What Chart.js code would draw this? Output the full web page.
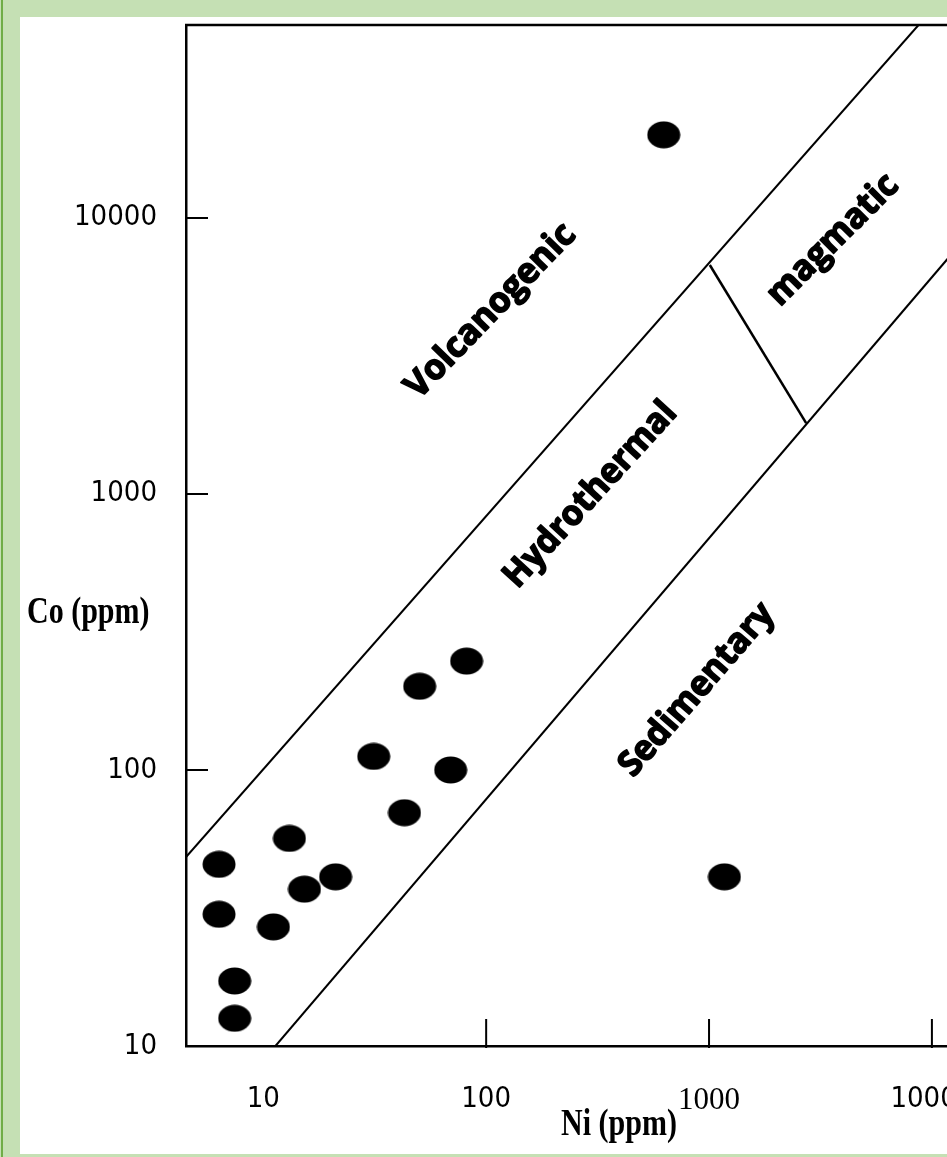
<!DOCTYPE html>
<html>
<head>
<meta charset="utf-8">
<script src="https://cdn.jsdelivr.net/npm/chart.js@4.4.1/dist/chart.umd.min.js"></script>
<style>
  html, body { margin: 0; padding: 0; }
  body { width: 947px; height: 1157px; overflow: hidden; background: #c5e0b4; position: relative; }
  #edge { position: absolute; left: 1px; top: 0; width: 2px; height: 1157px; background: #70ad47; }
  #panel { position: absolute; left: 20px; top: 17px; width: 1000px; height: 1137px; background: #fff; }
  #wrap { position: absolute; left: 0; top: 0; width: 1004px; height: 1157px; }
</style>
</head>
<body>
<div id="edge"></div>
<div id="panel"></div>
<div id="wrap"><canvas id="chart" width="1004" height="1157"></canvas></div>
<script>
// samples, Ni vs Co (ppm)
const niValues = [626, 1172, 81.7, 50.3, 31.3, 69.3, 43.0, 13.1, 6.33, 21.1, 15.3, 6.33, 11.1, 7.44, 7.44];
const coValues = [20000, 41, 248, 201, 112, 100, 70, 56.5, 45.5, 41, 37, 30, 27, 17.2, 12.6];

// field boundaries
const upperLineNi = [4.5, 8708];
const upperLineCo = [48.4, 50000];
const lowerLineNi = [11.34, 15850];
const lowerLineCo = [10, 9426];
const magmaticLineNi = [1008, 2728];
const magmaticLineCo = [6752, 1807];

// field names and where they sit
const fieldNames = ['Volcanogenic', 'Hydrothermal', 'Sedimentary', 'magmatic'];
const fieldNi = [105, 294, 882, 3600];
const fieldCo = [4600, 991, 195, 8318];

const xTicks = [10, 100, 1000, 10000];
const yTicks = [10, 100, 1000, 10000];

// label styling (degrees / px)
const fieldAngles = [46, 47.5, 49, 45];
const fieldWidths = [228, 238, 217, 170];

const toPoints = (xs, ys) => xs.map((v, i) => ({ x: v, y: ys[i] }));

// black ellipse used as marker
const dot = document.createElement('canvas');
dot.width = 34;
dot.height = 28;
const dctx = dot.getContext('2d');
dctx.fillStyle = '#000';
dctx.beginPath();
dctx.ellipse(17, 14, 16.5, 13.5, 0, 0, Math.PI * 2);
dctx.fill();

const sansFont = '"DejaVu Sans Condensed", "Liberation Sans Narrow", sans-serif';
const serifFont = '"Liberation Serif", "Times New Roman", serif';

// tall serif text, like the stretched titles in the original
function tallText(ctx, text, x, y, sy) {
  ctx.save();
  ctx.translate(x, y);
  ctx.scale(1, sy);
  ctx.fillText(text, 0, 0);
  ctx.restore();
}

const frame = {
  id: 'frame',
  afterDraw(chart) {
    const { ctx, chartArea: a, scales: { x, y } } = chart;
    ctx.save();
    ctx.strokeStyle = '#000';
    ctx.lineWidth = 2.5;
    ctx.beginPath();
    ctx.moveTo(a.left - 1, a.top);
    ctx.lineTo(a.right, a.top);
    ctx.stroke();
    // inward tick marks
    ctx.lineWidth = 2;
    ctx.beginPath();
    yTicks.filter(v => v > 10).forEach(v => {
      const p = y.getPixelForValue(v);
      ctx.moveTo(a.left, p);
      ctx.lineTo(a.left + 22, p);
    });
    xTicks.filter(v => v > 10).forEach(v => {
      const p = x.getPixelForValue(v);
      ctx.moveTo(p, a.bottom + 2);
      ctx.lineTo(p, a.bottom - 27);
    });
    ctx.stroke();

    // field names (heavy, so fill + thin outline)
    ctx.fillStyle = '#000';
    ctx.lineWidth = 1.6;
    ctx.lineJoin = 'round';
    ctx.textAlign = 'center';
    ctx.textBaseline = 'middle';
    ctx.font = 'bold 35px "Open Sans", sans-serif';
    fieldNames.forEach((name, i) => {
      const px = x.getPixelForValue(fieldNi[i]);
      const py = y.getPixelForValue(fieldCo[i]);
      const w = ctx.measureText(name).width;
      ctx.save();
      ctx.translate(px, py);
      ctx.rotate(-fieldAngles[i] * Math.PI / 180);
      ctx.scale(fieldWidths[i] / w, 1);
      ctx.fillText(name, 0, 0);
      ctx.strokeText(name, 0, 0);
      ctx.restore();
    });

    // axis titles
    ctx.font = 'bold 30px ' + serifFont;
    ctx.textBaseline = 'alphabetic';
    ctx.textAlign = 'center';
    tallText(ctx, 'Ni (ppm)', a.left + 433, 1135, 1.25);
    ctx.textAlign = 'left';
    tallText(ctx, 'Co (ppm)', 27, 623, 1.25);
    ctx.restore();
  }
};

const boundary = (xs, ys, w) => ({
  data: toPoints(xs, ys),
  showLine: true,
  borderColor: '#000',
  borderWidth: w,
  pointRadius: 0,
  fill: false
});

new Chart(document.getElementById('chart'), {
  type: 'scatter',
  data: {
    datasets: [
      {
        data: toPoints(niValues, coValues),
        pointStyle: dot,
        backgroundColor: '#000'
      },
      boundary(upperLineNi, upperLineCo, 2),
      boundary(lowerLineNi, lowerLineCo, 2),
      boundary(magmaticLineNi, magmaticLineCo, 2.5)
    ]
  },
  options: {
    responsive: false,
    animation: false,
    layout: { padding: { top: 25, right: 0, bottom: 0, left: 0 } },
    plugins: { legend: { display: false }, tooltip: { enabled: false } },
    scales: {
      x: {
        type: 'logarithmic',
        min: 4.5,
        max: 20000,
        grid: { display: false, drawTicks: false },
        border: { display: true, color: '#000', width: 2.5 },
        afterBuildTicks: s => { s.ticks = xTicks.map(v => ({ value: v })); },
        afterFit: s => { s.height = 111; s.paddingLeft = 0; s.paddingRight = 0; },
        ticks: {
          padding: 36,
          color: '#000',
          maxRotation: 0,
          autoSkip: false,
          font: c => (c.tick && c.tick.value === 1000)
            ? { family: serifFont, size: 31 }
            : { family: sansFont, size: 29 },
          callback: v => String(v)
        }
      },
      y: {
        type: 'logarithmic',
        min: 10,
        max: 50000,
        grid: { display: false, drawTicks: false },
        border: { display: true, color: '#000', width: 2.5 },
        afterBuildTicks: s => { s.ticks = yTicks.map(v => ({ value: v })); },
        afterFit: s => { s.width = 186; s.paddingTop = 0; s.paddingBottom = 0; },
        ticks: {
          padding: 29,
          color: '#000',
          autoSkip: false,
          font: { family: sansFont, size: 29 },
          callback: v => String(v)
        }
      }
    }
  },
  plugins: [frame]
});
</script>
</body>
</html>
